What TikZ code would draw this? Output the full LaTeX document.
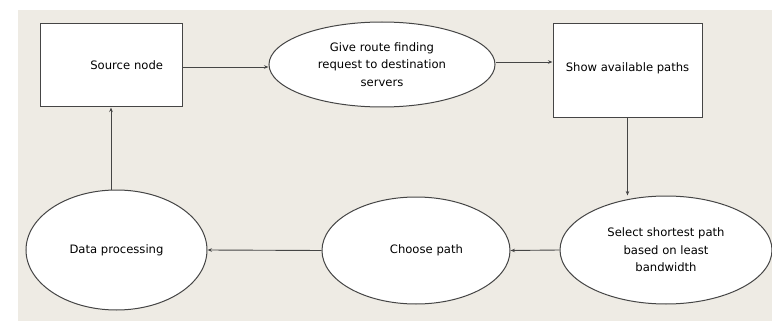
\documentclass[tikz,border=0pt]{standalone}
\usepackage{fontspec}
\setmainfont{DejaVu Sans}
\usetikzlibrary{shapes.geometric,arrows.meta,positioning}

\definecolor{panel}{HTML}{EEEBE4}
\definecolor{edge}{HTML}{454545}

\tikzset{
    stepbox/.style={draw=edge, fill=white, line width=1pt, inner sep=0pt},
    stepoval/.style={ellipse, draw=edge, fill=white, line width=1pt, inner sep=0pt, align=center},
    flow/.style={draw=edge, line width=0.9pt, -{Stealth[length=4.5pt,width=3.5pt]}}
}

\begin{document}
\begin{tikzpicture}[x=1pt, y=-1pt, font=\fontsize{11.6}{17.5}\selectfont]
        % Background
        \useasboundingbox (0,0) rectangle (772,321);
        \fill[white] (0,0) rectangle (772,321);
        \fill[panel] (18,10) rectangle (772,321);

        % Top row
        \node[stepbox, minimum width=142pt, minimum height=83pt, text width=104pt, align=right] (source) at (111,65.5) {Source node};
        \node[stepoval, minimum width=226pt, minimum height=85pt] (request) at (382,64.5)
            {Give route finding\\request to destination\\servers};
        \node[stepbox, minimum width=149pt, minimum height=94pt] (paths) at (627.5,71) {\raisebox{8pt}{Show available paths}};

        % Bottom row
        \node[stepoval, minimum width=212pt, minimum height=108pt] (select) at (666,250)
            {Select shortest path\\based on least\\bandwidth};
        \node[stepoval, minimum width=188pt, minimum height=107pt, text width=94pt, align=right] (choose) at (416,250.5) {\raisebox{-4pt}{Choose path}};
        \node[stepoval, minimum width=181pt, minimum height=120pt] (data) at (116.5,250) {Data processing};

        % Connectors
        \draw[flow] (source.east |- 0,67) -- (request.west |- 0,67);
        \draw[flow] (request.east |- 0,62) -- (paths.west |- 0,62);
        \draw[flow] (paths.south) -- (select.north -| paths.south);
        \draw[flow] (select.west) -- (choose.east);
        \draw[flow] (choose.west) -- (data.east);
        \draw[flow] (data.north -| source.south) -- (source.south);
    \end{tikzpicture}
\end{document}
